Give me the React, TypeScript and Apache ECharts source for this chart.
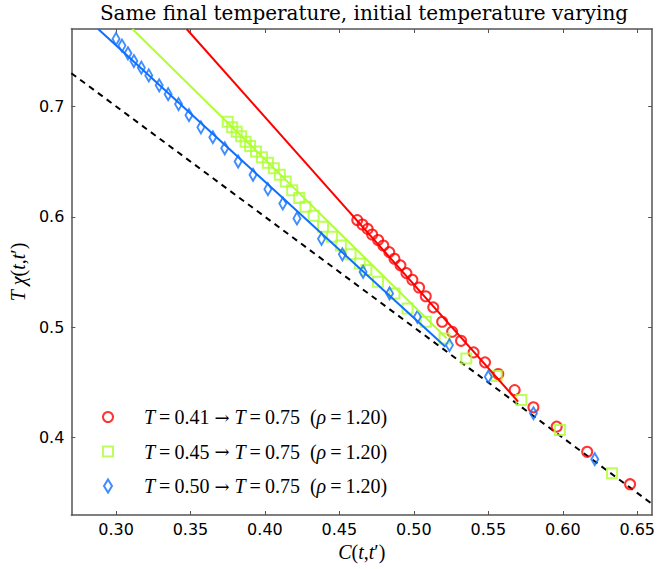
import React, { useEffect, useRef } from 'react';
import * as echarts from 'echarts';

// Tick values
const xTicks = [0.3, 0.35, 0.4, 0.45, 0.5, 0.55, 0.6, 0.65];
const yTicks = [0.4, 0.5, 0.6, 0.7];

// Series names
const redName = 'T=0.41→T=0.75 (ρ=1.20)';
const greenName = 'T=0.45→T=0.75 (ρ=1.20)';
const blueName = 'T=0.50→T=0.75 (ρ=1.20)';

// T = 0.41 -> 0.75
const redC = [0.462, 0.4655, 0.469, 0.472, 0.476, 0.4795, 0.4835, 0.487, 0.491, 0.495, 0.499, 0.5035, 0.508, 0.513, 0.519, 0.5257, 0.5317, 0.5401, 0.5478, 0.5567, 0.5677, 0.5803, 0.5959, 0.6164, 0.6452];
const redT = [0.597, 0.593, 0.589, 0.584, 0.579, 0.574, 0.568, 0.562, 0.556, 0.549, 0.543, 0.536, 0.528, 0.518, 0.505, 0.4959, 0.4877, 0.4772, 0.4682, 0.4576, 0.4431, 0.4275, 0.41, 0.3873, 0.3579];

// T = 0.45 -> 0.75
const greenC = [0.375, 0.378, 0.381, 0.384, 0.387, 0.39, 0.394, 0.398, 0.402, 0.406, 0.41, 0.414, 0.4183, 0.423, 0.4272, 0.4327, 0.439, 0.445, 0.451, 0.4575, 0.4637, 0.4681, 0.4759, 0.487, 0.4958, 0.508, 0.5206, 0.5352, 0.5556, 0.5722, 0.5981, 0.6331];
const greenT = [0.686, 0.681, 0.677, 0.673, 0.668, 0.664, 0.659, 0.654, 0.649, 0.644, 0.638, 0.632, 0.624, 0.617, 0.609, 0.601, 0.591, 0.582, 0.574, 0.566, 0.5577, 0.5517, 0.5411, 0.5306, 0.517, 0.5049, 0.4899, 0.4718, 0.4558, 0.4341, 0.407, 0.3678];

// T = 0.50 -> 0.75
const blueC = [0.3, 0.304, 0.308, 0.312, 0.317, 0.322, 0.329, 0.335, 0.342, 0.349, 0.357, 0.365, 0.373, 0.382, 0.392, 0.402, 0.412, 0.4215, 0.438, 0.452, 0.4659, 0.4837, 0.5024, 0.5239, 0.55, 0.5803, 0.6215];
const blueT = [0.761, 0.755, 0.748, 0.741, 0.735, 0.728, 0.719, 0.711, 0.702, 0.692, 0.681, 0.672, 0.662, 0.65, 0.638, 0.625, 0.612, 0.5985, 0.58, 0.566, 0.5501, 0.5306, 0.5094, 0.4838, 0.4552, 0.4221, 0.3805];

// Fit lines (end points) and FDT line
const redFitC = [0.3474, 0.57];
const redFitT = [0.77, 0.4326];
const greenFitC = [0.311, 0.522];
const greenFitT = [0.77, 0.49];
const blueFitC = [0.288, 0.5212];
const blueFitT = [0.77, 0.4823];
const fdtC = [0.27, 0.66];
const fdtT = [0.73, 0.34];

const RED = '#ff0000';
const GREEN = '#adff2f';
const BLUE = '#0f6fff';
const AXIS = '#555555';

const zip = (a: number[], b: number[]) => a.map((v, i) => [v, b[i]]);

const mathFont = 'Liberation Serif';
const legendRich = {
  i: { fontFamily: mathFont, fontStyle: 'italic', fontSize: 20, color: '#000' },
  n: { fontFamily: mathFont, fontSize: 20, color: '#000' },
  a: { fontFamily: 'DejaVu Serif', fontSize: 18, color: '#000' },
};
const TS = '\u2009';
const legendFmt = (name: string) => {
  const m = name.match(/T=([\d.]+)→T=([\d.]+) \(ρ=([\d.]+)\)/);
  if (!m) return name;
  return `{i|T}{n|${TS}=${TS}${m[1]} }{a|→}{n| }{i|T}{n|${TS}=${TS}${m[2]}  (}{i|ρ}{n|${TS}=${TS}${m[3]})}`;
};

export default function App() {
  const ref = useRef<HTMLDivElement>(null);
  useEffect(() => {
    const chart = echarts.init(ref.current!, null, { renderer: 'svg' });
    const axisLine = { show: true, onZero: false, lineStyle: { color: AXIS, width: 1.5 } };
    const tickStyle = { color: AXIS, width: 1 };
    const makeLegend = (name: string, icon: string, color: string, top: number, w: number, h: number) => ({
      data: [{ name, icon, itemStyle: { color: 'transparent', borderColor: color, borderWidth: 2 } }],
      left: 107 - w / 2,
      top,
      orient: 'vertical',
      padding: 0,
      itemWidth: w,
      itemHeight: h,
      selectedMode: false,
      formatter: legendFmt,
      textStyle: { padding: [0, 0, 0, 31 - w / 2], rich: legendRich, lineHeight: 22 },
    });
    const option: any = {
      animation: false,
      backgroundColor: '#ffffff',
      title: {
        text: 'Same final temperature, initial temperature varying',
        left: 364,
        textAlign: 'center',
        top: 3,
        padding: 0,
        textStyle: { fontFamily: 'DejaVu Serif', fontSize: 20, fontWeight: 'normal', color: '#000' },
      },
      grid: { left: 70, top: 29, right: 1, bottom: 54 },
      xAxis: [
        {
          type: 'value', min: 0.27, max: 0.66, position: 'bottom',
          axisLine,
          axisTick: { show: true, inside: true, length: 4, lineStyle: tickStyle, customValues: xTicks },
          axisLabel: { customValues: xTicks, formatter: (v: number) => v.toFixed(2), fontFamily: 'DejaVu Sans', fontSize: 16, color: '#000', margin: 6 },
          splitLine: { show: false },
          name: '{i|C}{n|(}{i|t}{n|,}{i|t}{n|′)}',
          nameLocation: 'middle',
          nameGap: 26,
          nameTextStyle: { rich: legendRich },
        },
        {
          type: 'value', min: 0.27, max: 0.66, position: 'top',
          axisLine,
          axisTick: { show: true, inside: true, length: 4, lineStyle: tickStyle, customValues: xTicks },
          axisLabel: { show: false },
          splitLine: { show: false },
        },
      ],
      yAxis: [
        {
          type: 'value', min: 0.33, max: 0.77, position: 'left',
          axisLine,
          axisTick: { show: true, inside: true, length: 4, lineStyle: tickStyle, customValues: yTicks },
          axisLabel: { customValues: yTicks, formatter: (v: number) => v.toFixed(1), fontFamily: 'DejaVu Sans', fontSize: 16, color: '#000', margin: 7 },
          splitLine: { show: false },
          name: '{i|T}{i| χ}{n|(}{i|t}{n|,}{i|t}{n|′)}',
          nameLocation: 'middle',
          nameGap: 41,
          nameTextStyle: { rich: legendRich },
        },
        {
          type: 'value', min: 0.33, max: 0.77, position: 'right',
          axisLine,
          axisTick: { show: true, inside: true, length: 4, lineStyle: tickStyle, customValues: yTicks },
          axisLabel: { show: false },
          splitLine: { show: false },
        },
      ],
      legend: [
        makeLegend(redName, 'circle', RED, 406, 10, 10),
        makeLegend(greenName, 'rect', GREEN, 440.5, 10, 10),
        makeLegend(blueName, 'diamond', BLUE, 475, 8, 13),
      ],
      series: [
        {
          type: 'line', name: 'FDT', data: zip(fdtC, fdtT), showSymbol: false, symbol: 'none',
          lineStyle: { color: '#000', width: 2, type: [6, 5] }, silent: true, z: 1,
        },
        {
          type: 'scatter', name: redName, data: zip(redC, redT), symbol: 'circle', symbolSize: 10,
          itemStyle: { color: 'transparent', borderColor: RED, borderWidth: 2 }, z: 3,
        },
        {
          type: 'scatter', name: greenName, data: zip(greenC, greenT), symbol: 'rect', symbolSize: 10,
          itemStyle: { color: 'transparent', borderColor: GREEN, borderWidth: 2 }, z: 3,
        },
        {
          type: 'scatter', name: blueName, data: zip(blueC, blueT), symbol: 'diamond', symbolSize: [7, 12],
          itemStyle: { color: 'transparent', borderColor: BLUE, borderWidth: 2 }, z: 3,
        },
        {
          type: 'line', name: 'fit1', data: zip(redFitC, redFitT), showSymbol: false, symbol: 'none',
          lineStyle: { color: RED, width: 2 }, silent: true, z: 4,
        },
        {
          type: 'line', name: 'fit2', data: zip(greenFitC, greenFitT), showSymbol: false, symbol: 'none',
          lineStyle: { color: GREEN, width: 2 }, silent: true, z: 4,
        },
        {
          type: 'line', name: 'fit3', data: zip(blueFitC, blueFitT), showSymbol: false, symbol: 'none',
          lineStyle: { color: BLUE, width: 2 }, silent: true, z: 4,
        },
      ],
    };
    chart.setOption(option);
    return () => chart.dispose();
  }, []);
  return <div ref={ref} style={{ position: 'absolute', left: 0, top: 0, width: 658, height: 569 }} />;
}
